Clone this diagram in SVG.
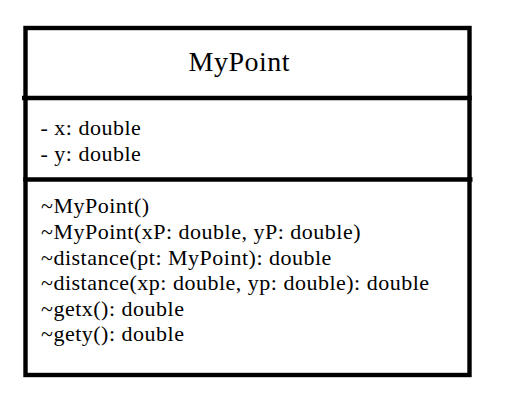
<svg xmlns="http://www.w3.org/2000/svg" width="506" height="413" viewBox="0 0 506 413">
  <style>
    .frame { fill: #ffffff; stroke: #000000; stroke-width: 4.4; }
    .rule { stroke: #000000; stroke-width: 4.4; }
    .t { font-family: "Liberation Serif", "Times New Roman", serif; fill: #000000; letter-spacing: 0.5px; }
    .name { font-size: 28px; }
    .m { font-size: 22px; }
  </style>
  <rect width="506" height="413" fill="#ffffff"/>
  <g id="MyPoint">
    <rect class="frame" x="25.5" y="28" width="444" height="347"/>
    <line class="rule" x1="22" y1="98" x2="471.7" y2="98"/>
    <line class="rule" x1="23.3" y1="179.5" x2="472.5" y2="179.5"/>
    <text class="t name" x="188.5" y="70.7">MyPoint</text>
    <text class="t m" x="40.5" y="135">- x: double</text>
    <text class="t m" x="40.5" y="161">- y: double</text>
    <text class="t m" x="41" y="213.3">~MyPoint()</text>
    <text class="t m" x="41" y="239">~MyPoint(xP: double, yP: double)</text>
    <text class="t m" x="41" y="264.5">~distance(pt: MyPoint): double</text>
    <text class="t m" x="41" y="290">~distance(xp: double, yp: double): double</text>
    <text class="t m" x="41" y="315.7">~getx(): double</text>
    <text class="t m" x="41" y="341.3">~gety(): double</text>
  </g>
</svg>
